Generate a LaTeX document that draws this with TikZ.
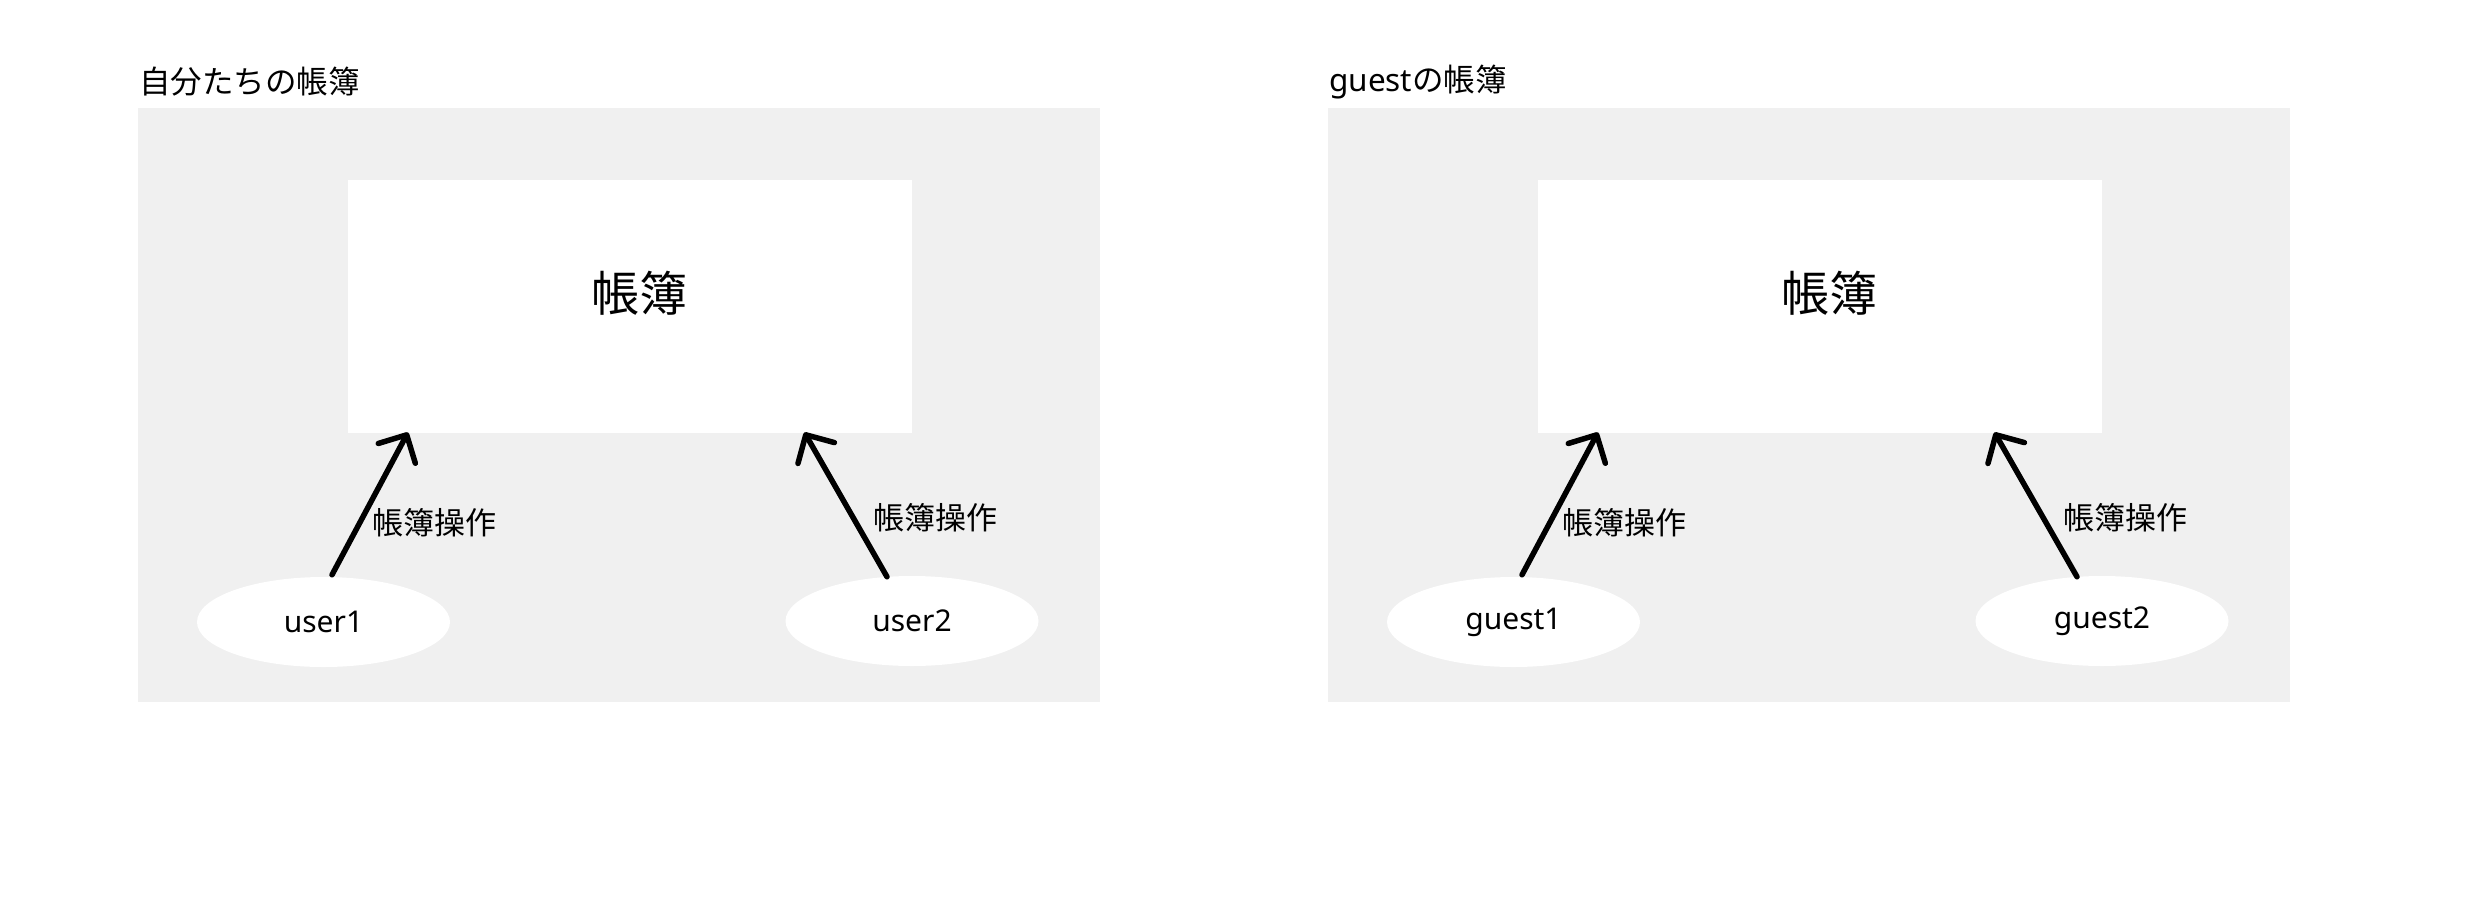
\documentclass[tikz,border=0pt]{standalone}
\usepackage{fontspec}
\setmainfont{Noto Sans}
\newfontfamily\cjk{Noto Sans CJK JP}
\usetikzlibrary{arrows.meta,calc,shapes.geometric}
\definecolor{panelgray}{HTML}{F0F0F0}
\begin{document}
\begin{tikzpicture}[x=1pt,y=-1pt,
 panel/.style={fill=panelgray, draw=none, inner sep=0pt, anchor=north west, minimum width=962pt, minimum height=594pt},
 ledger/.style={fill=white, draw=none, inner sep=0pt, anchor=north west, minimum width=564pt, minimum height=253pt},
 ledgertext/.style={inner sep=0pt, font=\cjk\fontsize{48}{48}\selectfont},
 actor/.style={ellipse, fill=white, draw=none, minimum width=253pt, minimum height=90pt, inner sep=0pt, font=\fontsize{30}{30}\selectfont},
 op/.style={-{Straight Barb[length=21pt,width=42pt,line cap=round,line join=round]}, line width=5.5pt, line cap=round},
 oplabel/.style={anchor=west, inner sep=0pt, font=\cjk\fontsize{31}{31}\selectfont},
 title/.style={anchor=west, inner sep=0pt, font=\fontsize{31.5}{31.5}\selectfont}
]
\fill[white] (0,0) rectangle (2474,908);
\useasboundingbox (0,0) rectangle (2474,908);

% left panel
\node[title] (title1) at (139,82) {\cjk 自分たちの帳簿};
\node[panel] (p1) at (138,108) {};
\node[ledger] (b1) at (348,180) {};
\node[ledgertext] (t1) at (639,293) {帳簿};
\node[actor] (u1) at (323.5,622) {user1};
\node[actor] (u2) at (912,621) {user2};
\draw[op] ($(u1.north)+(8.5,-2)$) -- ($(b1.south west)+(60,-1)$);
\draw[op] ($(u2.north)+(-25,1)$) -- ($(b1.south east)+(-108,-1)$);
\node[oplabel] (l1) at (372,523) {帳簿操作};
\node[oplabel] (l2) at (873,518) {帳簿操作};

% right panel
\node[title] (title2) at (1329,82) {guest{\cjk の帳簿}};
\node[panel] (p2) at (1328,108) {};
\node[ledger] (b2) at (1538,180) {};
\node[ledgertext] (t2) at (1829,293) {帳簿};
\node[actor] (g1) at (1513.5,622) {guest1};
\node[actor] (g2) at (2102,621) {guest2};
\draw[op] ($(g1.north)+(8.5,-2)$) -- ($(b2.south west)+(60,-1)$);
\draw[op] ($(g2.north)+(-25,1)$) -- ($(b2.south east)+(-108,-1)$);
\node[oplabel] (l3) at (1562,523) {帳簿操作};
\node[oplabel] (l4) at (2063,518) {帳簿操作};
\end{tikzpicture}
\end{document}
